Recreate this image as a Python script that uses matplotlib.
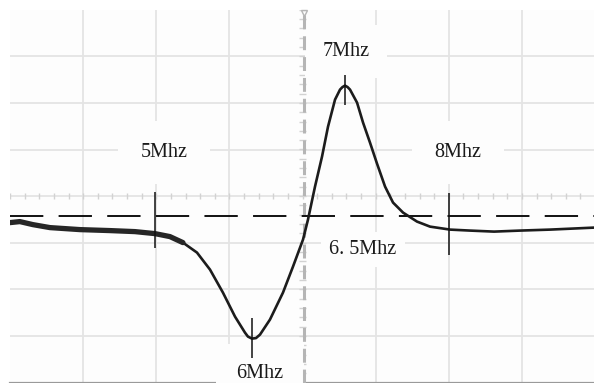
import numpy as np
import matplotlib
matplotlib.use("Agg")
import matplotlib.pyplot as plt

plt.rcParams['lines.scale_dashes'] = False
plt.rcParams['font.family'] = ['Liberation Serif', 'DejaVu Serif']

# trace, in divisions (x: 8 div, y: 8 div)
x_div = [-4.001, -3.865, -3.687, -3.454, -3.044, -2.633, -2.291, -2.018, -1.813, -1.635,
         -1.443, -1.265, -1.088, -0.923, -0.787, -0.746, -0.691, -0.636, -0.581, -0.445,
         -0.267, -0.130, 0.007, 0.075, 0.171, 0.267, 0.349, 0.445, 0.513, 0.547,
         0.581, 0.616, 0.650, 0.746, 0.828, 0.923, 1.019, 1.129, 1.238, 1.375,
         1.566, 1.744, 2.018, 2.291, 2.620, 2.975, 3.386, 3.988]
y_div = [-0.569, -0.547, -0.612, -0.676, -0.719, -0.740, -0.762, -0.805, -0.869, -0.998,
         -1.212, -1.577, -2.071, -2.586, -2.929, -3.015, -3.058, -3.047, -2.972, -2.650,
         -2.071, -1.513, -0.933, -0.504, 0.204, 0.848, 1.491, 2.071, 2.285, 2.340,
         2.371, 2.340, 2.285, 2.006, 1.577, 1.148, 0.697, 0.204, -0.139, -0.354,
         -0.547, -0.655, -0.719, -0.740, -0.762, -0.740, -0.719, -0.676]
n_noisy = 10          # left part of the trace is noisy / thicker
baseline = -0.418     # dashed reference level

# frequency markers
mark_names = ['5Mhz', '6Mhz', '7Mhz', '8Mhz']
mark_x = [-2.018, -0.691, 0.581, 2.004]
mark_lo = [-1.105, -3.466, 1.964, -1.255]
mark_hi = [0.097, -2.607, 2.607, 0.075]

# label text and where it sits
label_text = ['5Mhz', '6Mhz', '7Mhz', '8Mhz', '6. 5Mhz']
label_x = [-1.895, -0.581, 0.595, 2.127, 0.828]
label_y = [0.933, -3.80, 3.101, 0.933, -1.148]
label_pad = [1.1, 1.0, 0.85, 1.1, 0.4]

fig = plt.figure(figsize=(5.94, 3.83), dpi=100)
ax = fig.add_axes([10 / 594, 0.5 / 383, 585 / 594, 372.8 / 383])
ax.set_xlim(-4, 4)
ax.set_ylim(-4, 4)
ax.set_facecolor('#fdfdfd')

# graticule
ax.set_xticks([-3, -2, -1, 1, 2, 3])
ax.set_yticks([-3, -2, -1, 0, 1, 2, 3])
ax.tick_params(length=0, labelbottom=False, labelleft=False)
ax.grid(True, color='#e4e4e4', linewidth=1.3)
ax.set_axisbelow(True)
for side in ['top', 'left', 'right']:
    ax.spines[side].set_visible(False)
ax.spines['bottom'].set_color('#9a9a9a')
ax.spines['bottom'].set_linewidth(1.6)

# small ticks along the centre lines
minor = np.arange(-4, 4.01, 0.2)
ax.vlines(minor, -0.065, 0.065, color='#d2d2d2', linewidth=1, zorder=1)
ax.hlines(minor, -0.045, 0.045, color='#d2d2d2', linewidth=1, zorder=1)

# centre line and baseline
ax.axvline(0.02, color='#b5b5b5', linewidth=2.2, dashes=(10, 5), zorder=3)
ax.plot([0.02], [3.93], marker='v', markersize=5, markerfacecolor='none',
        markeredgecolor='#b5b5b5', zorder=3, clip_on=False)
ax.axhline(baseline, color='#111111', linewidth=1.4, dashes=(24, 11), zorder=3)

# trace
ax.plot(x_div, y_div, color='#1c1c1c', linewidth=1.9, solid_capstyle='round',
        solid_joinstyle='round', zorder=4)
ax.plot(x_div[:n_noisy], y_div[:n_noisy], color='#262626', linewidth=3.8,
        solid_capstyle='round', solid_joinstyle='round', zorder=4)

# markers and labels
ax.vlines(mark_x, mark_lo, mark_hi, color='#111111', linewidth=1.1, zorder=5)
for t, x, y, p in zip(label_text, label_x, label_y, label_pad):
    ax.text(x, y, t, ha='center', va='center', fontsize=14.5,
            color='#1a1a1a', zorder=2.6,
            bbox=dict(boxstyle=f'square,pad={p}', facecolor='#fdfdfd', edgecolor='none'))

fig.savefig('out.png', dpi=100)
